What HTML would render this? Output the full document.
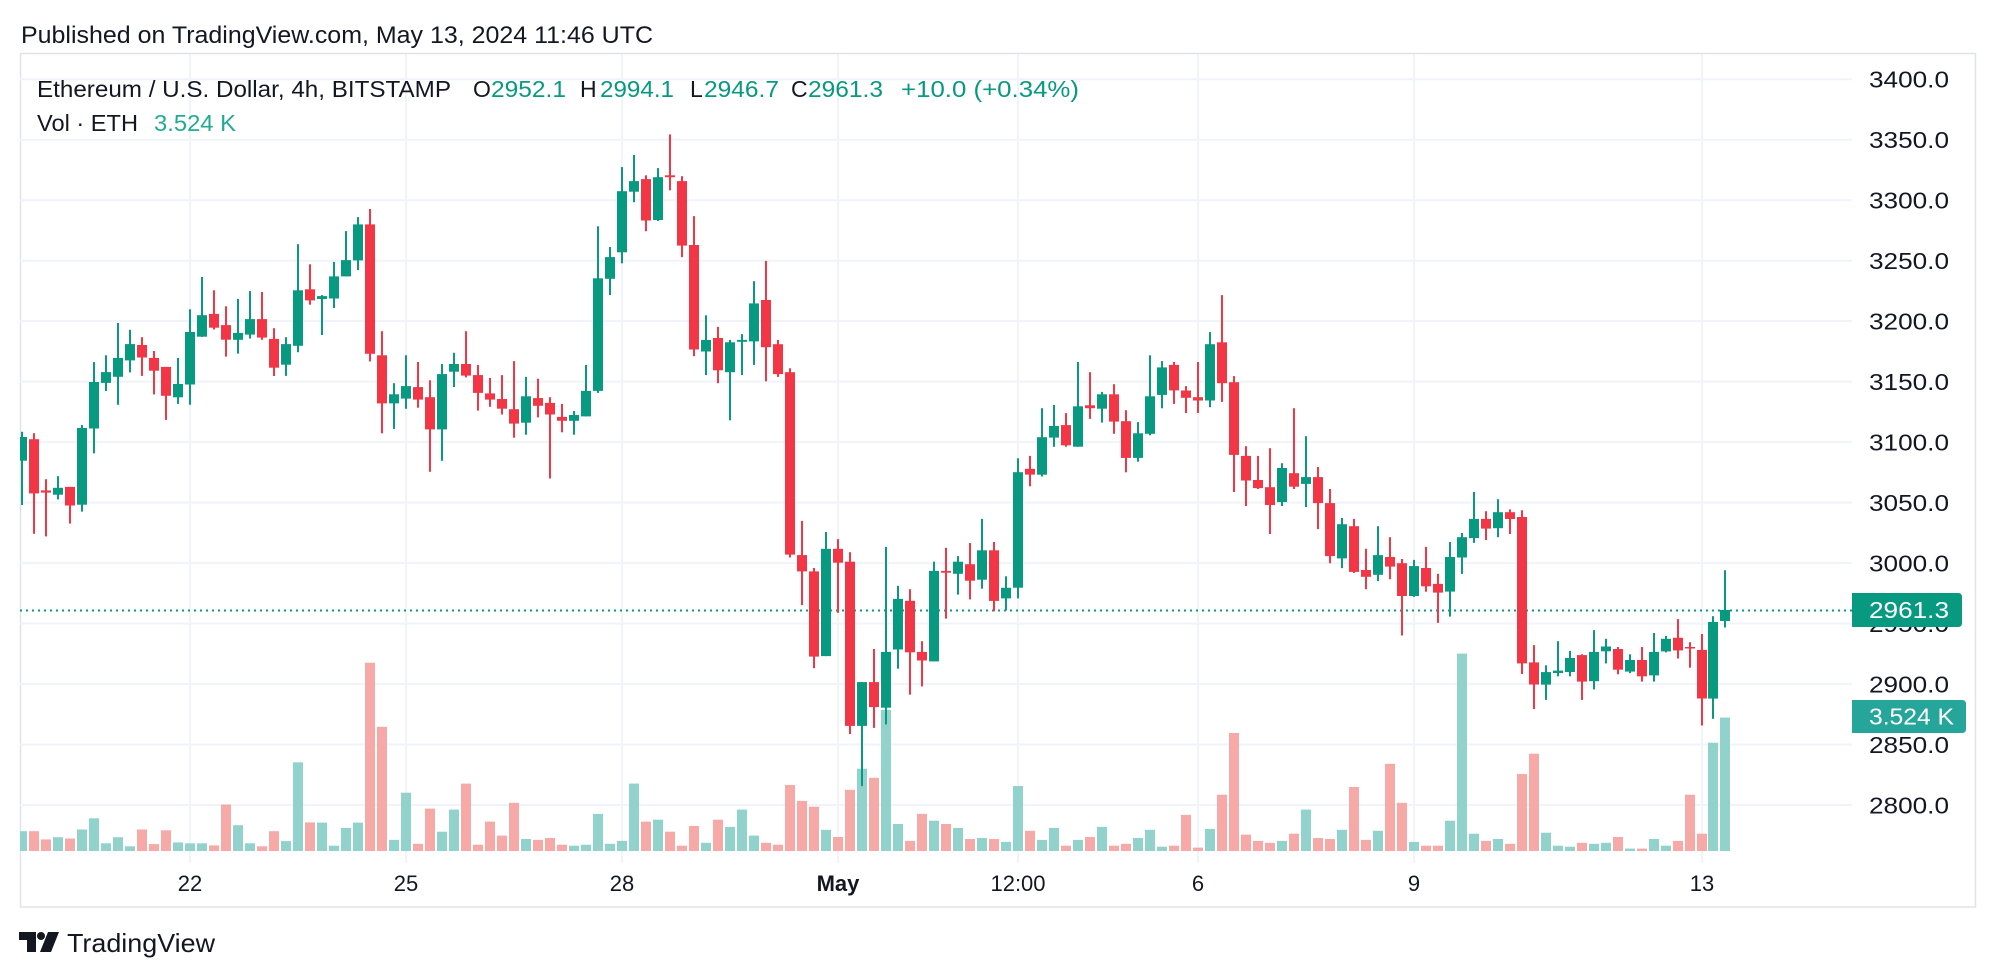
<!DOCTYPE html>
<html>
<head>
<meta charset="utf-8">
<style>
html,body{margin:0;padding:0;background:#fff;width:1996px;height:978px;overflow:hidden;}
svg{display:block;}
text{font-family:"Liberation Sans",Arial,sans-serif;}
</style>
</head>
<body>
<svg width="1996" height="978" viewBox="0 0 1996 978" xmlns="http://www.w3.org/2000/svg">
<defs>
<clipPath id="pane"><rect x="20" y="53" width="1832" height="810"/></clipPath>
</defs>
<rect x="0" y="0" width="1996" height="978" fill="#fff"/>

<!-- header -->
<text x="21" y="43" font-size="24.5" fill="#131722" textLength="632" lengthAdjust="spacingAndGlyphs">Published on TradingView.com, May 13, 2024 11:46 UTC</text>

<!-- frame -->
<rect x="20.5" y="53.5" width="1955" height="853.5" fill="none" stroke="#e0e3eb" stroke-width="1.5"/>

<!-- grid -->
<g stroke="#f0f3fa" stroke-width="2">
<line x1="20" y1="79.2" x2="1852" y2="79.2"/>
<line x1="20" y1="139.7" x2="1852" y2="139.7"/>
<line x1="20" y1="200.2" x2="1852" y2="200.2"/>
<line x1="20" y1="260.7" x2="1852" y2="260.7"/>
<line x1="20" y1="321.1" x2="1852" y2="321.1"/>
<line x1="20" y1="381.6" x2="1852" y2="381.6"/>
<line x1="20" y1="442.1" x2="1852" y2="442.1"/>
<line x1="20" y1="502.6" x2="1852" y2="502.6"/>
<line x1="20" y1="563.1" x2="1852" y2="563.1"/>
<line x1="20" y1="623.6" x2="1852" y2="623.6"/>
<line x1="20" y1="684.1" x2="1852" y2="684.1"/>
<line x1="20" y1="744.5" x2="1852" y2="744.5"/>
<line x1="20" y1="805" x2="1852" y2="805"/>
<line x1="190" y1="54" x2="190" y2="863"/>
<line x1="406" y1="54" x2="406" y2="863"/>
<line x1="622" y1="54" x2="622" y2="863"/>
<line x1="838" y1="54" x2="838" y2="863"/>
<line x1="1018" y1="54" x2="1018" y2="863"/>
<line x1="1198" y1="54" x2="1198" y2="863"/>
<line x1="1414" y1="54" x2="1414" y2="863"/>
<line x1="1702" y1="54" x2="1702" y2="863"/>
</g>

<!-- legend -->
<text x="37" y="97" font-size="23" fill="#131722" textLength="414" lengthAdjust="spacingAndGlyphs">Ethereum / U.S. Dollar, 4h, BITSTAMP</text>
<text x="473" y="97" font-size="23" fill="#131722">O</text>
<text x="491" y="97" font-size="23" fill="#089981" textLength="75" lengthAdjust="spacingAndGlyphs">2952.1</text>
<text x="580" y="97" font-size="23" fill="#131722">H</text>
<text x="600" y="97" font-size="23" fill="#089981" textLength="74" lengthAdjust="spacingAndGlyphs">2994.1</text>
<text x="690" y="97" font-size="23" fill="#131722">L</text>
<text x="704" y="97" font-size="23" fill="#089981" textLength="75" lengthAdjust="spacingAndGlyphs">2946.7</text>
<text x="791" y="97" font-size="23" fill="#131722">C</text>
<text x="808" y="97" font-size="23" fill="#089981" textLength="75" lengthAdjust="spacingAndGlyphs">2961.3</text>
<text x="901" y="97" font-size="23" fill="#089981" textLength="178" lengthAdjust="spacingAndGlyphs">+10.0 (+0.34%)</text>
<text x="37" y="131" font-size="23" fill="#131722" textLength="101" lengthAdjust="spacingAndGlyphs">Vol · ETH</text>
<text x="154" y="131" font-size="23" fill="#22ab94" textLength="82" lengthAdjust="spacingAndGlyphs">3.524 K</text>

<!-- series -->
<g clip-path="url(#pane)">
<g id="v"></g>
<line x1="20" y1="610.5" x2="1852" y2="610.5" stroke="#089981" stroke-width="2" stroke-dasharray="2 4"/>
<g id="c"></g>
</g>

<!-- price axis -->
<g font-size="23" fill="#131722">
<text x="1869" y="87.7" textLength="80" lengthAdjust="spacingAndGlyphs">3400.0</text>
<text x="1869" y="148.2" textLength="80" lengthAdjust="spacingAndGlyphs">3350.0</text>
<text x="1869" y="208.7" textLength="80" lengthAdjust="spacingAndGlyphs">3300.0</text>
<text x="1869" y="269.2" textLength="80" lengthAdjust="spacingAndGlyphs">3250.0</text>
<text x="1869" y="329.6" textLength="80" lengthAdjust="spacingAndGlyphs">3200.0</text>
<text x="1869" y="390.1" textLength="80" lengthAdjust="spacingAndGlyphs">3150.0</text>
<text x="1869" y="450.6" textLength="80" lengthAdjust="spacingAndGlyphs">3100.0</text>
<text x="1869" y="511.1" textLength="80" lengthAdjust="spacingAndGlyphs">3050.0</text>
<text x="1869" y="571.6" textLength="80" lengthAdjust="spacingAndGlyphs">3000.0</text>
<text x="1869" y="632.1" textLength="80" lengthAdjust="spacingAndGlyphs">2950.0</text>
<text x="1869" y="692.6" textLength="80" lengthAdjust="spacingAndGlyphs">2900.0</text>
<text x="1869" y="753.0" textLength="80" lengthAdjust="spacingAndGlyphs">2850.0</text>
<text x="1869" y="813.5" textLength="80" lengthAdjust="spacingAndGlyphs">2800.0</text>
</g>
<path d="M1852 593 H1958 Q1962 593 1962 597 V623 Q1962 627 1958 627 H1852 Z" fill="#089981"/>
<text x="1869" y="618" font-size="23" fill="#ffffff" textLength="80" lengthAdjust="spacingAndGlyphs">2961.3</text>
<path d="M1852 700 H1962 Q1966 700 1966 704 V729 Q1966 733 1962 733 H1852 Z" fill="#26a69a"/>
<text x="1869" y="724.5" font-size="23" fill="#ffffff" textLength="85" lengthAdjust="spacingAndGlyphs">3.524 K</text>

<!-- time axis -->
<g font-size="22" fill="#131722" text-anchor="middle">
<text x="190" y="891">22</text>
<text x="406" y="891">25</text>
<text x="622" y="891">28</text>
<text x="838" y="891" font-weight="bold">May</text>
<text x="1018" y="891">12:00</text>
<text x="1198" y="891">6</text>
<text x="1414" y="891">9</text>
<text x="1702" y="891">13</text>
</g>

<!-- logo -->
<g fill="#131722">
<path d="M19 932 H36 V952 H27 V940 H19 Z"/>
<circle cx="41" cy="936" r="4"/>
<path d="M48 932 H59 L51 952 H40 Z"/>
</g>
<text x="67" y="952" font-size="26" fill="#131722" textLength="148" lengthAdjust="spacingAndGlyphs">TradingView</text>
</svg>

<script>
const D=[
[3084.6,3108.5,3048,3104.2,19.8],[3102.4,3107.4,3024.2,3057.6,19.8],[3060.1,3069.3,3022,3058.3,11.6],[3056.5,3071.8,3052.6,3062.2,13.8],[3063,3063,3032.7,3047.6,12.5],
[3048.3,3114.1,3042.6,3111.7,21.5],[3111.3,3166.1,3090.7,3149.7,32.7],[3149,3171.8,3142.3,3157.9,7.7],[3154,3198.5,3130.9,3169.6,13.8],[3167.5,3192.8,3157.6,3181,4.7],
[3180.3,3186.7,3154.7,3170,21.5],[3169.6,3175.3,3139.4,3159,6.9],[3162.2,3162.2,3118.4,3138.3,20.7],[3137,3169.6,3131.6,3148,8.6],[3147.6,3209.8,3130.9,3191,7.7],
[3187.1,3236.5,3187.1,3204.9,7.7],[3206,3225.5,3193.1,3194.6,5.6],[3196.7,3212.3,3170.7,3184.6,46.5],[3184.6,3218.4,3173.2,3190.3,25.8],[3188.9,3224.8,3185.6,3201.7,7.7],
[3201.7,3224.1,3184.6,3186.4,4.7],[3185.3,3194.2,3154.7,3161.5,19.8],[3164,3186.7,3154.7,3181,9.9],[3179.6,3263.6,3174.3,3225.5,88.7],[3226.3,3247,3213.6,3217.1,28.6],
[3218.3,3221.5,3188.5,3220.7,28.4],[3218.7,3249,3210.8,3237,5.3],[3237,3274.4,3237,3250.5,23.1],[3250.2,3286,3242.2,3280,28.4],[3280,3292.7,3166.6,3173,188.3],
[3171.8,3191.7,3107.3,3132,124.2],[3132,3148.7,3110.9,3139.5,11.1],[3136,3171.8,3127.6,3146.3,58.3],[3145.5,3166.2,3128.4,3135.2,7.2],[3137.1,3151.1,3075.5,3110.5,42.4],
[3110.5,3164.6,3084.6,3156.2,19.3],[3158.2,3173.8,3145.5,3164.6,41.4],[3164.6,3191.7,3153.5,3155,67.4],[3155.4,3163.8,3126,3140.7,6.3],[3140.3,3153.1,3129.2,3135.2,29.4],
[3135.6,3155.4,3122.8,3127.6,15.4],[3127.2,3167,3103.7,3115.3,48.2],[3116.1,3153.9,3106.1,3137.9,12],[3136.4,3152.3,3120.4,3130,11.1],[3132.4,3137.1,3069.9,3122.8,13],
[3120.8,3131.6,3108.1,3117.6,6.3],[3117.6,3125.6,3106.1,3122.4,5.3],[3121.2,3163.8,3121.2,3142.3,6.3],[3142.3,3278.4,3140.7,3235.4,37.1],[3235,3261.3,3221.5,3252.9,7.2],
[3256.9,3327.3,3247.8,3307.4,10.1],[3307,3337.3,3298.3,3315.8,67.4],[3317.4,3320.6,3274.4,3283.2,29.4],[3283.6,3326.5,3282.8,3319,31.3],[3320.6,3354.4,3308.2,3319,19.3],
[3315.8,3319.8,3252.9,3262.5,5.3],[3262.9,3286.8,3171,3176.5,25],[3174.9,3204.8,3155.4,3184.5,8.2],[3186.1,3195.2,3148.7,3159.4,31.3],[3157.8,3184.5,3118,3182.5,24.1],
[3182.9,3189.3,3155.4,3184.5,41.4],[3183.3,3233,3163.8,3214.7,15.4],[3217.5,3249.8,3150.3,3178.5,8.2],[3180.9,3184.5,3153.9,3156.2,6.3],[3157.8,3161,3004.6,3007,66],
[3006.6,3034.9,2965.3,2993.1,50.1],[2993.1,2995.9,2913.1,2922.7,44.3],[2923.1,3025.7,2923.1,3011.8,21.2],[3011.8,3019.8,2958.9,3000.3,14],[3001.1,3009,2858.6,2865.4,61.2],
[2865.4,2901.6,2815.6,2901.6,82.3],[2901.6,2929,2863.8,2880.9,73.2],[2880.5,3013.4,2866.6,2926.6,141.1],[2928.6,2981.2,2912.7,2970.4,27],[2968.8,2978.4,2891.2,2926.2,10.1],
[2926.6,2935.4,2898,2919.5,37.1],[2918.7,3001.1,2918.7,2993.5,30.3],[2993.5,3012.6,2954.1,2992,27],[2991.1,3005.8,2974,3001.1,23.1],[2999.1,3016.6,2970,2985.5,12],
[2986.3,3036.5,2978.8,3010.6,13],[3010.6,3017.4,2960.1,2968.8,12],[2970.8,2989.1,2960.9,2979.6,9.1],[2979.6,3086.6,2970.8,3075.1,65],[3077.9,3088.6,3063.5,3073.1,20.2],
[3073.1,3128,3071.5,3104.1,11.1],[3103.7,3130.8,3096.2,3113.3,23.1],[3114.1,3124,3096.2,3097.4,5.3],[3096.2,3166.2,3096.2,3129.6,11.1],[3130.4,3157.8,3119.2,3128,14],
[3127.6,3141.5,3116.1,3139.5,24.1],[3139.5,3147.9,3106.9,3116.9,5.3],[3117.3,3126.4,3075.1,3087,7.2],[3087,3116.5,3083.8,3107.3,13],[3106.9,3171.8,3105.7,3137.9,21.2],
[3139.1,3167,3128,3161.8,4.3],[3163.8,3166.2,3131.6,3142.7,5.3],[3142.7,3146.3,3124,3136.7,36.1],[3137.1,3166.2,3124,3134.4,3.4],[3134.4,3190.9,3128.8,3180.9,22.1],
[3182.5,3221.5,3133.2,3148.7,56.3],[3149.5,3154.6,3058.8,3089.4,118],[3088.6,3096.6,3047.2,3068.3,16.4],[3068.7,3088.6,3061.2,3062,10.1],[3062.7,3095,3024.1,3048,8.2],
[3050.4,3082.6,3047.2,3078.6,10.1],[3074.3,3128,3061.2,3063.1,17.3],[3065.5,3104.9,3046.4,3071.1,41.4],[3071.1,3079.4,3028.1,3049.6,13],[3049.6,3061.2,2999.9,3005.8,12],
[3003.8,3037.3,2995.9,3032.1,21.2],[3030.5,3036.5,2991.9,2992.7,64],[2994.3,3011.8,2978.4,2988.7,11.1],[2990.3,3030.5,2985.1,3006.6,20.2],[3005,3021.4,2986.7,2997.1,87.2],
[2999.9,3003.4,2940.2,2972.8,48.2],[2972.8,3002.6,2972,2997.5,9.1],[2995.9,3013.4,2976.4,2980.8,5.3],[2982.8,2991.1,2950.5,2975.6,5.3],[2976.4,3017.4,2955.7,3005,30.3],
[3004.6,3024.9,2991.1,3021.4,197.4],[3020.6,3058.8,3016.6,3036.5,17.3],[3036.5,3042.9,3019,3028.5,10.1],[3028.9,3052.8,3021.4,3042.1,12],[3042.1,3044.4,3024.1,3036.5,7.2],
[3038.1,3043.6,2908.3,2917.1,77],[2917.9,2932.2,2879.3,2899.6,97.3],[2899.6,2915.5,2886.9,2909.9,18.3],[2909.1,2935.4,2906.4,2911.1,5.3],[2909.9,2927.4,2906.4,2921.5,4.3],
[2923.9,2924.6,2886.9,2902,8.2],[2902.4,2944.6,2895.6,2926.6,7.2],[2927,2937.4,2917.1,2931,8.2],[2929,2930.6,2908,2911.9,14],[2910.3,2924.6,2909.1,2919.9,2.4],
[2919.9,2930.6,2902,2906.4,2.4],[2907.2,2942.2,2902,2926.6,12],[2927,2939.8,2926.2,2937.4,5.3],[2938.2,2953.7,2921.1,2927.8,10.1],[2930.6,2934.6,2913.5,2929.4,56.3],
[2928.2,2941.4,2865.8,2888,17.3],[2888,2956.1,2871.3,2951.3,108.3],[2952.1,2994.1,2946.7,2961.3,133.4]
];
const Y=p=>79.2+(3400-p)*1.2097;
let s='',sv='';
D.forEach((d,i)=>{
  const o=d[0],h=d[1],l=d[2],c=d[3],v=d[4];
  const x=Math.round(22.06+11.996*i);
  const up=c>=o;
  const col=up?'#089981':'#F23645';
  sv+='<rect x="'+(x-5)+'" y="'+(851-v).toFixed(1)+'" width="10" height="'+v+'" fill="'+(up?'#92d2cc':'#f7a9a7')+'"/>';
  const yt=Y(Math.max(o,c)),yb=Y(Math.min(o,c));
  s+='<rect x="'+(x-1)+'" y="'+Y(h).toFixed(1)+'" width="2" height="'+(Y(l)-Y(h)).toFixed(1)+'" fill="'+col+'"/>';
  s+='<rect x="'+(x-5)+'" y="'+yt.toFixed(1)+'" width="10" height="'+Math.max(1.5,yb-yt).toFixed(1)+'" fill="'+col+'"/>';
});
document.getElementById('v').innerHTML=sv;
document.getElementById('c').innerHTML=s;
</script>
</body>
</html>
